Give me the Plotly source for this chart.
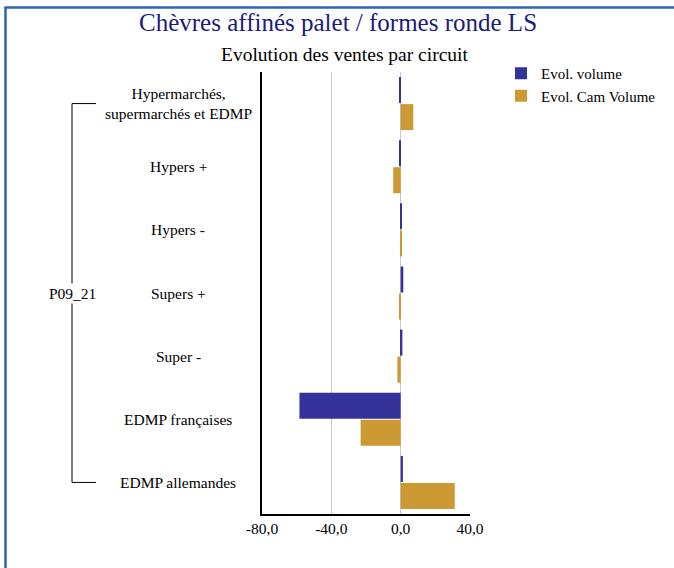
import plotly.graph_objects as go

categories = ["Hypermarchés,<br>supermarchés et EDMP", "Hypers +", "Hypers -", "Supers +",
              "Super -", "EDMP françaises", "EDMP allemandes"]
evol_volume = [-0.8, -0.8, 0.3, 1.5, 1.0, -58.4, 1.3]
evol_cam_volume = [7.3, -4.3, 0.2, -0.8, -1.9, -23.1, 31.2]
tick_vals = [-80, -40, 0, 40]
tick_text = ["-80,0", "-40,0", "0,0", "40,0"]
group_label = "P09_21"

FONT = "Liberation Serif"
L, R, T, B = 262, 674 - 470, 72, 568 - 514
W, H = 674, 568
pw, ph = W - L - R, H - T - B

def px_x(p):
    return (p - L) / pw

def px_y(p):
    return (H - B - p) / ph

fig = go.Figure()
fig.add_trace(go.Bar(y=categories, x=evol_volume, orientation="h", name="Evol. volume",
                     marker=dict(color="#333399", line=dict(width=0))))
fig.add_trace(go.Bar(y=categories, x=evol_cam_volume, orientation="h", name="Evol. Cam Volume",
                     marker=dict(color="#CC9933", line=dict(width=0))))

annotations = []
for c in categories:
    annotations.append(dict(x=px_x(178), xref="paper", y=c, yref="y", text=c, showarrow=False,
                            xanchor="center", yanchor="middle",
                            font=dict(family=FONT, size=15.5, color="#000000")))
annotations.append(dict(x=px_x(72), xref="paper", y=3, yref="y", text=group_label, showarrow=False,
                        xanchor="center", yanchor="middle", bgcolor="white",
                        font=dict(family=FONT, size=15.5, color="#000000")))
annotations.append(dict(x=px_x(338), xref="paper", y=px_y(23), yref="paper",
                        text="Chèvres affinés palet / formes ronde LS", showarrow=False,
                        xanchor="center", yanchor="middle",
                        font=dict(family=FONT, size=25, color="#1a1a80")))
annotations.append(dict(x=px_x(345), xref="paper", y=px_y(55), yref="paper",
                        text="Evolution des ventes par circuit", showarrow=False,
                        xanchor="center", yanchor="middle",
                        font=dict(family=FONT, size=19.5, color="#000000")))

shapes = [
    dict(type="line", xref="paper", yref="y", x0=px_x(72), x1=px_x(72), y0=0, y1=6,
         line=dict(color="#000000", width=1)),
    dict(type="line", xref="paper", yref="y", x0=px_x(72), x1=px_x(96), y0=0, y1=0,
         line=dict(color="#000000", width=1)),
    dict(type="line", xref="paper", yref="y", x0=px_x(72), x1=px_x(96), y0=6, y1=6,
         line=dict(color="#000000", width=1)),
    dict(type="line", xref="paper", yref="paper", x0=px_x(5.5), x1=px_x(5.5), y0=px_y(7), y1=px_y(570),
         line=dict(color="#2f63b8", width=2.5)),
    dict(type="line", xref="paper", yref="paper", x0=px_x(4.5), x1=px_x(676), y0=px_y(7.5), y1=px_y(7.5),
         line=dict(color="#2f63b8", width=2.5)),
]

fig.update_layout(
    width=W, height=H,
    margin=dict(l=L, r=R, t=T, b=B, autoexpand=False),
    paper_bgcolor="white", plot_bgcolor="white",
    barmode="group", bargap=0.144, bargroupgap=0.04,
    font=dict(family=FONT, size=15.5, color="#000000"),
    showlegend=True,
    legend=dict(xref="container", yref="container", x=501 / W, y=1 - 57 / H,
                xanchor="left", yanchor="top",
                font=dict(family=FONT, size=15, color="#000000"),
                bgcolor="rgba(0,0,0,0)", traceorder="normal", itemsizing="constant",
                tracegroupgap=0),
    annotations=annotations, shapes=shapes,
    xaxis=dict(range=[-80, 40], tickvals=tick_vals, ticktext=tick_text,
               showgrid=True, gridcolor="#c8c8c8", gridwidth=1, zeroline=False,
               showline=True, linecolor="#000000", linewidth=1.5, ticks="",
               tickfont=dict(family=FONT, size=15.5, color="#000000")),
    yaxis=dict(autorange="reversed", showticklabels=False, showgrid=False, zeroline=False,
               showline=True, linecolor="#000000", linewidth=1.5, ticks=""),
)

fig.write_html("out.html", config={"displayModeBar": False},
               post_script="document.body.style.margin='0';")
